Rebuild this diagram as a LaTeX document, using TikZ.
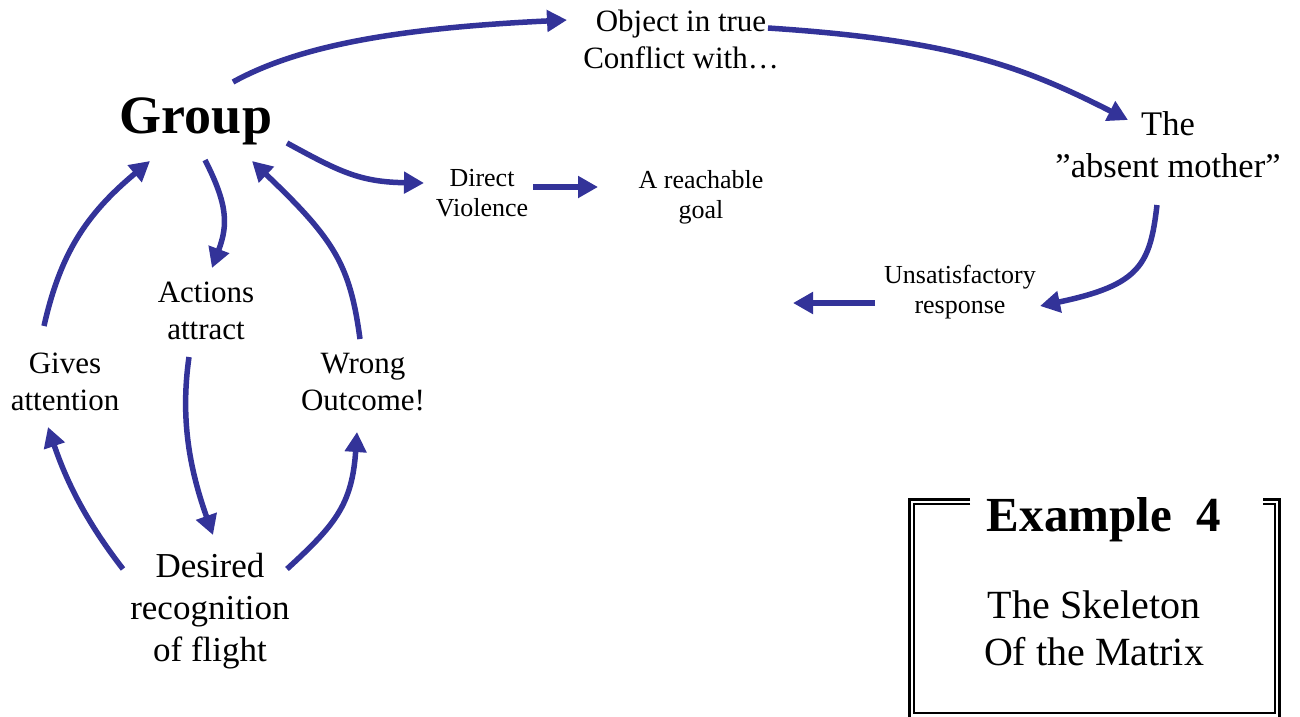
\documentclass[tikz,border=0pt]{standalone}
\usepackage{fontspec}
\setmainfont{Liberation Serif}
\usetikzlibrary{arrows.meta}
\definecolor{arrowblue}{RGB}{51,51,153}
\begin{document}
\begin{tikzpicture}[x=1pt,y=-1pt,
  lbl/.style={inner sep=0pt, align=center, text=black},
  big/.style={lbl, font=\fontsize{31}{37}\selectfont},
  small/.style={lbl, font=\fontsize{26}{30}\selectfont},
  arr/.style={draw=arrowblue, line width=5.5pt, -{Triangle[length=20pt,width=21pt]}},
  frameout/.style={draw=black, line width=2.6pt},
  framein/.style={draw=black, line width=2pt}]
\useasboundingbox (0,0) rectangle (1300,716);

\node[lbl, font=\bfseries\fontsize{54}{60}\selectfont] (grp) at (196,121) {Group};
\node[big] (obj) at (681,39) {Object in true\\Conflict with…};
\node[lbl, font=\fontsize{34.5}{42}\selectfont] (the) at (1168,145) {The\\”absent mother”};
\node[small] (dv) at (482,193) {Direct\\Violence};
\node[small] (goal) at (701,197) {A reachable\\goal};
\node[small] (unsat) at (960,292) {Unsatisfactory\\response};
\node[big] (act) at (206,311) {Actions\\attract};
\node[big] (gives) at (65,382) {Gives\\attention};
\node[big] (wrong) at (363,382) {Wrong\\Outcome!};
\node[lbl, font=\fontsize{35}{42}\selectfont] (des) at (210,611) {Desired\\recognition\\of flight};
\node[lbl, font=\bfseries\fontsize{49}{56}\selectfont] (ex) at (1104,520) {Example\ \ 4};
\node[lbl, font=\fontsize{40}{47}\selectfont] (skel) at (1094,628) {The Skeleton\\Of the Matrix};
\coordinate (free) at (793,303);

% frame
\draw[frameout] (970,499.5) -- (909.5,499.5) -- (909.5,720) -- (1279.5,720) -- (1279.5,499.5) -- (1263,499.5);
\draw[framein] (970,504) -- (914,504) -- (914,712.5) -- (1274.5,712.5) -- (1274.5,504) -- (1263,504);

% arrows
\draw[arr] ([shift={(37,-39)}]grp.center) .. controls (300,45) and (400,28) .. ([shift={(-114,-19)}]obj.center);
\draw[arr] ([shift={(87,-11)}]obj.center) .. controls (950,40) and (1020,65) .. ([shift={(-40,-25)}]the.center);
\draw[arr] ([shift={(91,22)}]grp.center) .. controls (340,172) and (360,182) .. ([shift={(-58,-10)}]dv.center);
\draw[arr] ([shift={(51,-6)}]dv.center) -- ([shift={(-103,-10)}]goal.center);
\draw[arr] ([shift={(9,39)}]grp.center) .. controls (228,205) and (228,225) .. ([shift={(6,-43)}]act.center);
\draw[arr] ([shift={(-17,46)}]act.center) .. controls (180,420) and (190,470) .. ([shift={(3,-76)}]des.center);
\draw[arr] ([shift={(-87,-42)}]des.center) .. controls (85,520) and (66,480) .. ([shift={(-17,45)}]gives.center);
\draw[arr] ([shift={(-21,-56)}]gives.center) .. controls (60,255) and (85,215) .. ([shift={(-46,40)}]grp.center);
\draw[arr] ([shift={(-3,-43)}]wrong.center) .. controls (350,265) and (335,240) .. ([shift={(56,40)}]grp.center);
\draw[arr] ([shift={(77,-42)}]des.center) .. controls (335,525) and (352,505) .. ([shift={(-6,50)}]wrong.center);
\draw[arr] ([shift={(-11,60)}]the.center) .. controls (1150,265) and (1140,285) .. ([shift={(80,14)}]unsat.center);
\draw[arr] ([shift={(-85,11)}]unsat.center) -- (free);
\end{tikzpicture}
\end{document}
